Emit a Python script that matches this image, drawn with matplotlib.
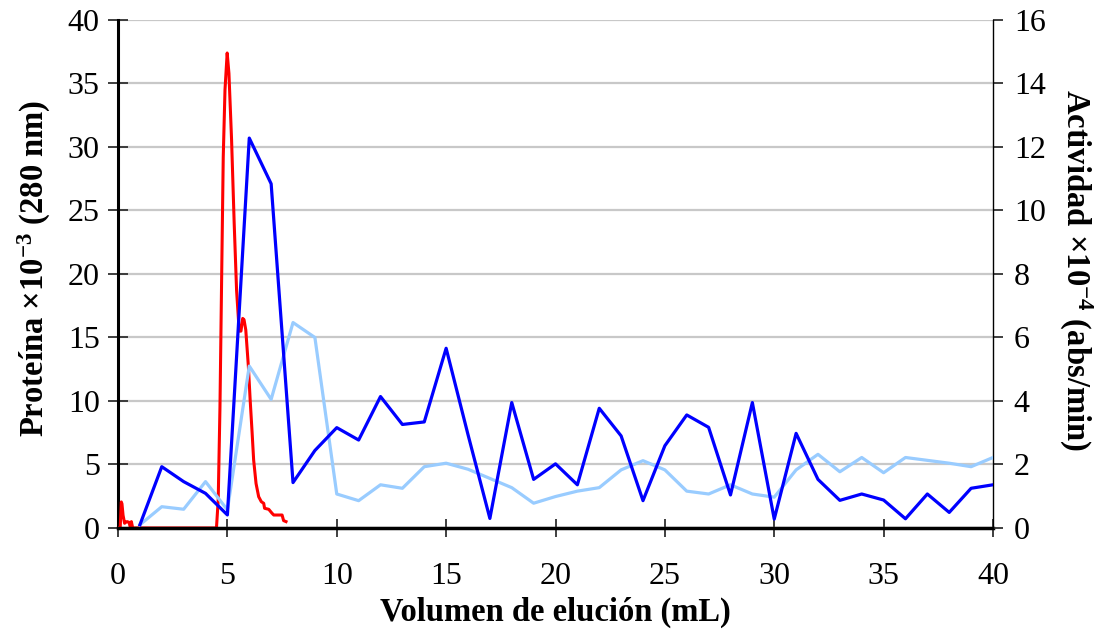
import matplotlib
matplotlib.use("Agg")
import matplotlib.pyplot as plt

plt.rcParams['font.family'] = ['Liberation Serif', 'DejaVu Serif']
plt.rcParams['mathtext.default'] = 'regular'

# Protein absorbance trace (280 nm), continuous recording
prot_x = [0, 0.1, 0.15, 0.18, 0.23, 0.3, 0.35, 0.41, 0.5, 0.56, 0.61, 0.67,
          4.5, 4.58, 4.66, 4.74, 4.81, 4.89, 4.99, 5.07, 5.19, 5.31, 5.42,
          5.54, 5.62, 5.7, 5.76, 5.84, 5.96, 6.04, 6.13, 6.2, 6.31, 6.43,
          6.55, 6.66, 6.7, 6.89, 7.04, 7.12, 7.5, 7.57, 7.68]
prot_y = [0, 0.05, 2.05, 1.9, 1.0, 0.37, 0.45, 0.5, 0.45, 0.1, 0.5, 0.0,
          0.0, 2.2, 9.5, 20.1, 29.2, 34.5, 37.4, 35.8, 30.6, 24.0, 18.7,
          15.5, 15.5, 16.5, 16.4, 15.6, 12.7, 10.1, 7.5, 5.35, 3.5, 2.46,
          2.07, 1.94, 1.55, 1.47, 1.16, 1.02, 1.02, 0.58, 0.5]

# Fraction numbers (mL)
frac = list(range(1, 41))

# Activity per fraction (abs/min x 10^-4)
act_dark = [0.10, 1.93, 1.46, 1.09, 0.41, 12.28, 10.84, 1.43, 2.44, 3.16,
            2.77, 4.14, 3.26, 3.34, 5.66, 2.94, 0.30, 3.95, 1.53, 2.02,
            1.36, 3.77, 2.90, 0.86, 2.59, 3.56, 3.17, 1.04, 3.95, 0.28,
            2.98, 1.53, 0.87, 1.07, 0.88, 0.29, 1.07, 0.49, 1.25, 1.36]
act_light = [0.10, 0.67, 0.59, 1.46, 0.57, 5.10, 4.05, 6.47, 6.00, 1.07,
             0.86, 1.36, 1.25, 1.93, 2.04, 1.85, 1.56, 1.27, 0.78, 0.99,
             1.16, 1.27, 1.83, 2.12, 1.83, 1.16, 1.07, 1.36, 1.07, 0.97,
             1.83, 2.32, 1.77, 2.22, 1.74, 2.22, 2.13, 2.04, 1.93, 2.22]

x_ticks = [0, 5, 10, 15, 20, 25, 30, 35, 40]
left_ticks = [0, 5, 10, 15, 20, 25, 30, 35, 40]
right_ticks = [0, 2, 4, 6, 8, 10, 12, 14, 16]

fig = plt.figure(figsize=(11, 6.32), dpi=100)
ax = fig.add_axes([0.1073, 0.1646, 0.7954, 0.8038])
ax2 = ax.twinx()

ax.plot(prot_x, prot_y, color='#ff0000', lw=2.2, zorder=3)
ax2.plot(frac, act_light, color='#99ccff', lw=2.3, zorder=3)
ax2.plot(frac, act_dark, color='#0000ff', lw=2.3, zorder=4)

ax.set_xlim(0, 40)
ax.set_ylim(0, 40)
ax2.set_ylim(0, 16)
ax.set_xticks(x_ticks)
ax.set_yticks(left_ticks)
ax2.set_yticks(right_ticks)

ax.yaxis.grid(True, color='#c8c8c8', lw=1.6)
ax.set_axisbelow(True)

for s in ['top', 'right']:
    ax.spines[s].set_visible(False)
for s in ['top', 'left', 'bottom']:
    ax2.spines[s].set_visible(False)
ax.spines['left'].set_linewidth(2.2)
ax.spines['bottom'].set_linewidth(2.5)
ax.spines['bottom'].set_zorder(5)
ax2.spines['right'].set_linewidth(1.0)

tick_font = 23
ax.tick_params(axis='y', direction='inout', length=14.4, width=1.3,
               color='#303030', labelsize=tick_font, pad=6)
ax.tick_params(axis='x', direction='inout', length=13, width=1.3,
               color='#303030', labelsize=tick_font, pad=18)
ax2.tick_params(axis='y', direction='out', length=7, width=1.3,
                color='#303030', labelsize=tick_font, pad=8)

label_font = dict(fontsize=23.5, fontweight='bold')
fig.text(555 / 1100, 1 - 612 / 632, 'Volumen de elución (mL)',
         ha='center', va='center', **label_font)
fig.text(34 / 1100, 1 - 268 / 632, r'Proteína ×10$^{-3}$ (280 nm)',
         ha='center', va='center', rotation=90, **label_font)
fig.text(1076 / 1100, 1 - 270 / 632, r'Actividad ×10$^{-4}$ (abs/min)',
         ha='center', va='center', rotation=-90, **label_font)

fig.savefig('out.png', dpi=100)
